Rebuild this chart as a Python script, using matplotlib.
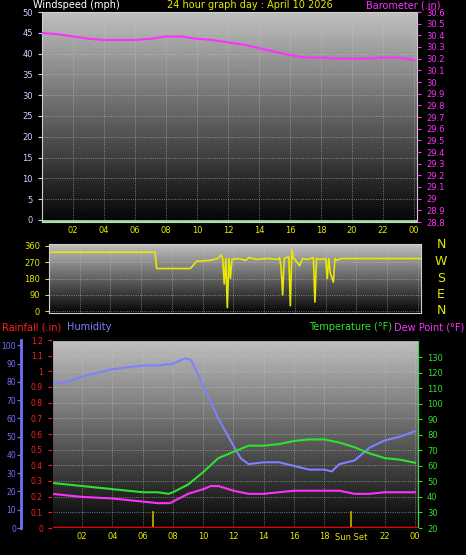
import numpy as np
import matplotlib
matplotlib.use("Agg")
import matplotlib.pyplot as plt

hours_b = list(range(25))
baro = [30.42,30.41,30.39,30.37,30.36,30.36,30.36,30.37,30.39,30.39,30.37,30.36,30.34,30.32,30.29,30.26,30.23,30.21,30.21,30.2,30.2,30.2,30.21,30.21,30.19]

wd_t = [0,6.9,7.0,9.2,9.6,10.5,11.0,11.2,11.3,11.4,11.5,11.6,11.7,11.8,11.9,12.3,12.8,13.0,13.5,14.2,14.9,15.0,15.1,15.2,15.3,15.6,15.7,15.8,15.9,16.0,16.3,16.5,16.8,17.0,17.2,17.3,17.4,17.6,18.0,18.1,18.2,18.3,18.5,18.6,18.7,19.0,24.2]
wd = [325,325,235,235,275,280,290,310,290,150,290,20,290,180,285,290,280,295,285,290,285,295,240,90,290,300,30,340,290,285,250,290,285,290,295,50,290,285,290,180,290,210,160,290,280,290,290]

hum_t = [0,1,2,3,4,5,6,7,8,8.8,9.2,10,11,12,12.5,13,14,15,16,17,18,18.5,19,20,21,22,23,24]
hum = [79,80,83,85,87,88,89,89,90,93,92,78,60,45,38,35,36,36,34,32,32,31,35,37,44,48,50,53]
tmp_t = [0,1,2,3,4,5,6,7,7.7,8,9,10,11,12,13,14,15,16,17,18,19,20,21,22,23,24]
tmp = [49,48,47,46,45,44,43,43,42,43,48,56,65,69,73,73,74,76,77,77,75,72,68,65,64,62]
dew_t = [0,2,4,6,7,7.8,8,9,10,10.5,11,12,13,14,15,16,17,18,19,20,21,22,23,24]
dew = [42,40,39,37,36,36,37,42,45,47,47,44,42,42,43,44,44,44,44,42,42,43,43,43]
sun_t = [6.7, 19.8]
xticks = [2,4,6,8,10,12,14,16,18,20,22,24]
xlabels = ["02","04","06","08","10","12","14","16","18","20","22","00"]

W, H = 466, 555
fig = plt.figure(figsize=(W/100, H/100), dpi=100, facecolor="black")
YEL = "#e8e800"
grad = np.linspace(0.75, 0.02, 256).reshape(-1, 1)

def box(l, r, t, b):
    return [l/W, 1-b/H, (r-l)/W, (b-t)/H]

def style(ax, xlim):
    ax.set_facecolor("black")
    ax.imshow(grad, cmap="gray", vmin=0, vmax=1, aspect="auto",
              extent=[0, 1, 0, 1], transform=ax.transAxes, zorder=0)
    ax.set_xlim(*xlim)
    ax.set_xticks(xticks)
    ax.set_xticklabels(xlabels, color=YEL, fontsize=6)
    ax.grid(True, color="#c8c8c8", ls=":", lw=0.6, alpha=0.7)
    for s in ax.spines.values():
        s.set_color("#d0d0d0")
    ax.tick_params(axis="x", colors=YEL, length=0, pad=3)

# top panel
ax1 = fig.add_axes(box(42, 417, 12, 222))
style(ax1, (0, 24.2))
ax1.set_ylim(-0.5, 50)
ax1.set_yticks(range(0, 51, 5))
ax1.tick_params(axis="y", colors="#c8d4ff", labelsize=6, length=3)
ax1.axhline(-0.3, color="#90e090", lw=2)
ax1b = ax1.twinx()
ax1b.set_ylim(28.8, 30.6)
vals = np.round(np.arange(28.8, 30.61, 0.1), 1)
ax1b.set_yticks(vals)
ax1b.set_yticklabels([("%g" % v) for v in vals])
ax1b.tick_params(axis="y", colors="#ff30ff", labelsize=6, length=3)
ax1b.plot(hours_b, baro, color="#ff30ff", lw=1.5)
for s in ax1b.spines.values():
    s.set_visible(False)

fig.text(33/W, 1-5/H, "Windspeed (mph)", color="white", fontsize=7, va="center")
fig.text(250/W, 1-5/H, "24 hour graph day : April 10 2026", color=YEL, fontsize=7, va="center", ha="center")
fig.text(441/W, 1-5/H, "Barometer (.in)", color="#ff30ff", fontsize=7, va="center", ha="right")

# wind direction
ax2 = fig.add_axes(box(49, 421, 244, 313))
style(ax2, (0, 24.2))
ax2.set_ylim(-10, 370)
ax2.set_yticks([0, 90, 180, 270, 360])
ax2.tick_params(axis="y", colors=YEL, labelsize=6, length=3)
ax2.set_xticklabels([])
ax2.plot(wd_t, wd, color=YEL, lw=1.2)
for i, c in enumerate("NWSEN"):
    fig.text(441/W, 1-(245+16.5*i)/H, c, color=YEL, fontsize=9, ha="center", va="center")

# bottom
ax3 = fig.add_axes(box(52, 418, 340, 528))
style(ax3, (0, 24.2))
ax3.set_ylim(0, 1.2)
rv = np.round(np.arange(0, 1.21, 0.1), 1)
ax3.set_yticks(rv)
ax3.set_yticklabels(["%g" % v for v in rv])
ax3.tick_params(axis="y", colors="#ff2020", labelsize=5.5, length=3)
ax3.spines["left"].set_color("#ff2020")
ax3.axhline(0, color="#ff0000", lw=2.5, zorder=5)
for t in sun_t:
    ax3.plot([t, t], [0, 0.1], color="#c8b400", lw=1.2)
ax3.text(19.8, -0.035, "Sun Set", color=YEL, fontsize=6, ha="center", va="top")
ax3.set_xticks([2,4,6,8,10,12,14,16,18,22,24])
ax3.set_xticklabels(["02","04","06","08","10","12","14","16","18","22","00"], fontsize=6, color=YEL)

axh = ax3.twinx()
axh.spines["left"].set_position(("outward", 22))
axh.spines["left"].set_visible(True)
axh.spines["left"].set_color("#7070ff")
axh.spines["left"].set_linewidth(2)
axh.spines["right"].set_visible(False)
axh.yaxis.tick_left()
axh.set_ylim(0, 103)
axh.set_yticks(range(0, 101, 10))
axh.tick_params(axis="y", colors="#7070ff", labelsize=5.5, length=3, pad=1)
axh.plot(hum_t, hum, color="#8080ff", lw=1.5)

axt = ax3.twinx()
axt.set_ylim(20, 141)
axt.set_yticks(range(20, 131, 10))
axt.tick_params(axis="y", colors="#30e030", labelsize=6, length=3)
axt.spines["right"].set_color("#30e030")
axt.plot(tmp_t, tmp, color="#30e030", lw=1.5)
axt.plot(dew_t, dew, color="#ff30ff", lw=1.5)

fig.text(2/W, 1-327/H, "Rainfall (.in)", color="#ff2020", fontsize=7, va="center")
fig.text(67/W, 1-327/H, "Humidity", color="#8080ff", fontsize=7, va="center")
fig.text(392/W, 1-327/H, "Temperature (°F)", color="#30e030", fontsize=7, va="center", ha="right")
fig.text(464/W, 1-327/H, "Dew Point (°F)", color="#ff30ff", fontsize=7, va="center", ha="right")

fig.savefig("out.png", dpi=100, facecolor="black")
